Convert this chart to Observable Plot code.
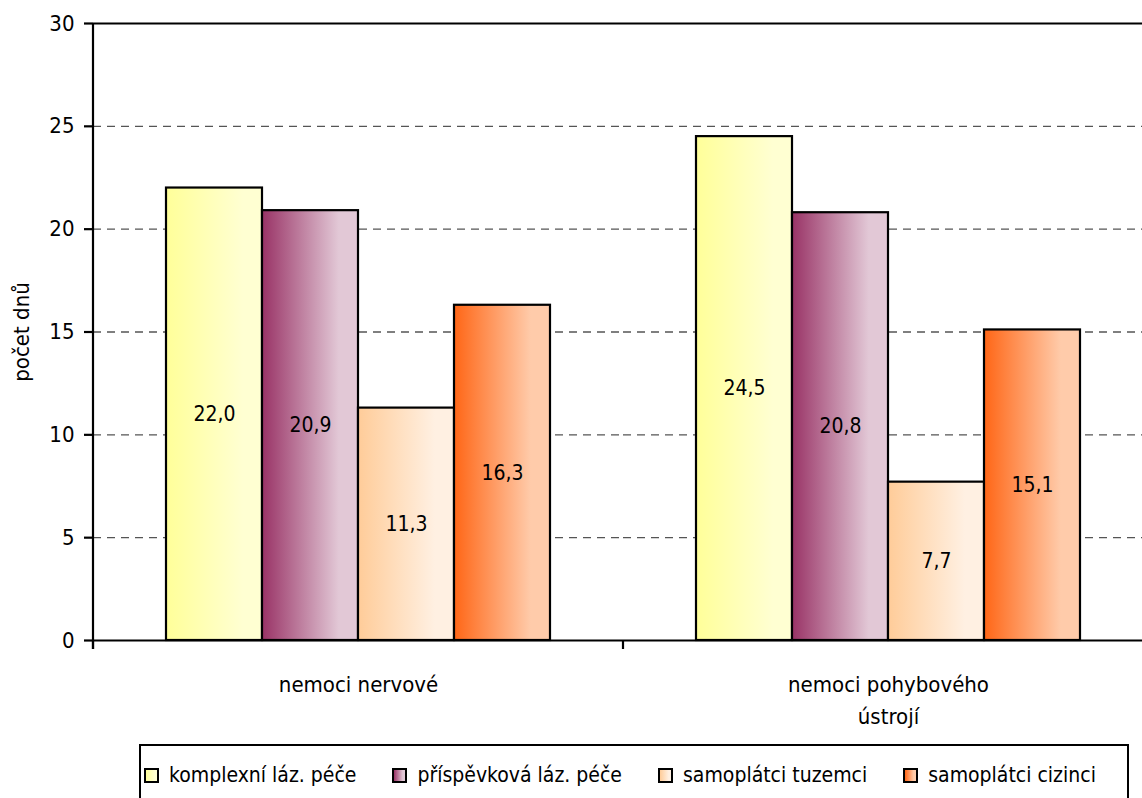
<!DOCTYPE html>
<html>
<head>
<meta charset="utf-8">
<script src="https://cdn.jsdelivr.net/npm/d3@7"></script>
<script src="https://cdn.jsdelivr.net/npm/@observablehq/plot@0.6"></script>
<style>
  body { margin: 0; background: #fff; }
  #wrap { position: relative; width: 1142px; height: 798px; overflow: hidden;
    font-family: "DejaVu Sans Condensed", "Liberation Sans Narrow", sans-serif; }
  #legend { position: absolute; left: 139px; top: 744px; width: 990px; height: 90px;
    border: 2px solid #000; box-sizing: border-box; display: flex; align-items: flex-start;
    padding: 15px 0 0 3px; gap: 36px; }
  .item { display: flex; align-items: center; font-size: 21px; line-height: 28px; color: #000; white-space: nowrap; }
  .sw { width: 11px; height: 11px; border: 2px solid #000; margin-right: 10px; flex: none; }
</style>
</head>
<body>
<div id="wrap"><div id="chart"></div><div id="legend"></div></div>
<script>
const categories = ["nemoci nervové", "nemoci pohybového ústrojí"];
const series = ["komplexní láz. péče", "příspěvková láz. péče", "samoplátci tuzemci", "samoplátci cizinci"];
const valuesNervove = [22.0, 20.9, 11.3, 16.3];
const valuesPohybove = [24.5, 20.8, 7.7, 15.1];
const yTicks = [0, 5, 10, 15, 20, 25, 30];
const gradientColors = [
  ["#FFFF99", "#FFFFD2"],
  ["#993366", "#E2C8D6"],
  ["#FFCC99", "#FFF0E2"],
  ["#FF6616", "#FFCBAA"]
];

const FONT = '"DejaVu Sans Condensed", "Liberation Sans Narrow", sans-serif';
const seriesValues = [valuesNervove, valuesPohybove];
const data = categories.flatMap((c, ci) => series.map((s, si) => ({category: c, series: s, idx: si, value: seriesValues[ci][si]})));

const chart = Plot.plot({
  width: 1142,
  height: 740,
  marginLeft: 93,
  marginRight: 0,
  marginTop: 23,
  marginBottom: 100,
  style: {fontFamily: FONT, fontSize: "21px", background: "transparent", color: "#000", overflow: "hidden"},
  fx: {domain: categories, padding: 0, range: [93, 1153], label: null},
  x: {domain: series, paddingInner: 0, paddingOuter: 0.75, axis: null},
  y: {domain: [0, 30], label: null},
  marks: [
    Plot.ruleY(yTicks.filter(t => t > 0 && t < 30), {stroke: "#555", strokeWidth: 1.3, strokeDasharray: "8,6"}),
    ...series.map((s, i) => Plot.barY(data.filter(d => d.idx === i), {
      fx: "category", x: "series", y: "value",
      fill: `url(#grad${i})`, stroke: "#000", strokeWidth: 2.2
    })),
    Plot.text(data, {
      fx: "category", x: "series", y: d => d.value / 2,
      text: d => d.value.toFixed(1).replace(".", ","), fontSize: 21, fill: "#000"
    }),
    Plot.ruleY([0, 30], {stroke: "#000", strokeWidth: 2.2}),
    Plot.axisY({ticks: yTicks, tickSize: 9, tickPadding: 10, strokeWidth: 2.2, fontSize: 22,
      label: "počet dnů", labelArrow: "none", labelAnchor: "center", labelOffset: 80}),
    Plot.axisFx({anchor: "bottom", tickSize: 0, tickPadding: 29, fontSize: 22, lineHeight: 1.45,
      tickFormat: d => d.replace("pohybového ", "pohybového\n"), label: null})
  ]
});
document.getElementById("chart").append(chart);

const svg = d3.select(chart);
const defs = svg.append("defs");
gradientColors.forEach(([a, b], i) => {
  const g = defs.append("linearGradient").attr("id", `grad${i}`).attr("x1", 0).attr("x2", 1).attr("y1", 0).attr("y2", 0);
  g.append("stop").attr("offset", "0%").attr("stop-color", a);
  g.append("stop").attr("offset", "80%").attr("stop-color", b);
});

// axis lines drawn from the library's scales
const fxs = chart.scale("fx"), ys = chart.scale("y");
const y0 = ys.apply(0), yTop = ys.apply(30);
const xLeft = fxs.apply(categories[0]);
svg.append("line").attr("x1", xLeft).attr("x2", xLeft).attr("y1", yTop).attr("y2", y0 + 9)
  .attr("stroke", "#000").attr("stroke-width", 2.2);
categories.forEach(c => {
  const xb = fxs.apply(c);
  svg.append("line").attr("x1", xb).attr("x2", xb).attr("y1", y0).attr("y2", y0 + 9)
    .attr("stroke", "#000").attr("stroke-width", 2.2);
});

// legend
const legend = d3.select("#legend");
series.forEach((s, i) => {
  const it = legend.append("div").attr("class", "item");
  it.append("div").attr("class", "sw")
    .style("background", `linear-gradient(to right, ${gradientColors[i][0]}, ${gradientColors[i][1]} 80%)`);
  it.append("span").text(s);
});
</script>
</body>
</html>
